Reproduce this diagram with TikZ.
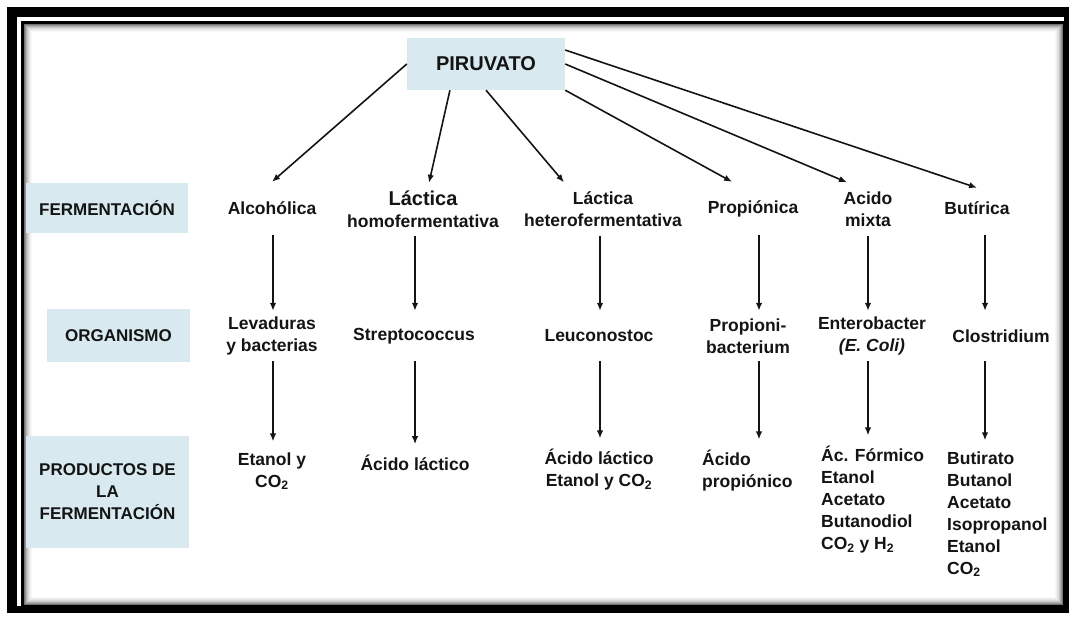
\documentclass[tikz,border=0pt]{standalone}
\usepackage{fontspec}
\setmainfont{Liberation Sans}
\usepackage{tikz}
\usetikzlibrary{arrows.meta}
\definecolor{cajaazul}{RGB}{216,234,240}
\definecolor{tinta}{RGB}{20,20,20}
\tikzstyle{etiqueta}=[fill=cajaazul, text=tinta, align=center, inner sep=0pt,
    font=\bfseries\fontsize{17}{22}\selectfont]
\tikzstyle{texto}=[text=tinta, align=center, font=\bfseries\fontsize{17.5}{22}\selectfont]
\tikzstyle{fermen}=[texto, inner sep=0pt, minimum height=53pt]
\tikzstyle{organ}=[texto, inner sep=0pt, minimum height=50pt]
\tikzstyle{prod}=[texto, inner xsep=0pt, inner ysep=3pt, outer ysep=8pt]
\tikzstyle{flecha}=[draw=tinta, line width=1.6pt, -{Latex[length=8pt,width=6.5pt]}]

\begin{document}
\begin{tikzpicture}[x=1pt,y=-1pt]
\useasboundingbox (0,0) rectangle (1070,621);
% marco
\fill[black] (7,7) rectangle (1069,613);
\fill[white] (17,17) rectangle (1064,606);
\foreach \d/\g in {1/55,2/42,3/31,4/22,5/15,6/10,7/6,8/3}
  \draw[black!\g, line width=1pt] (23.5+\d,23.5+\d) rectangle (1063-\d,605-\d);
\draw[line width=3pt] (22.5,22.5) rectangle (1064,606);

\node[etiqueta, minimum width=162pt, minimum height=50pt] (lfer) at (107,208) {FERMENTACIÓN};
\node[etiqueta, minimum width=143pt, minimum height=53pt] (lorg) at (118.5,335.5) {ORGANISMO};
\node[etiqueta, minimum width=163pt, minimum height=112pt] (lprod) at (107.5,492) {PRODUCTOS DE\\LA\\FERMENTACIÓN};
\node[etiqueta, minimum width=158pt, minimum height=52pt, font=\bfseries\fontsize{20}{24}\selectfont] (piru) at (486,64) {PIRUVATO};

\node[fermen] (f1) at (272,208.5) {Alcohólica};
\node[fermen] (f2) at (423,209.5) {{\fontsize{20}{22}\selectfont Láctica}\\homofermentativa};
\node[fermen] (f3) at (603,209) {Láctica\\heterofermentativa};
\node[fermen] (f4) at (753,208.5) {Propiónica};
\node[fermen] (f5) at (868,209) {Acido\\mixta};
\node[fermen] (f6) at (977,208.5) {Butírica};

\node[organ] (o1) at (272,336) {Levaduras\\y bacterias};
\node[organ] (o2) at (414,336) {Streptococcus};
\node[organ] (o3) at (599,336) {Leuconostoc};
\node[organ] (o4) at (748,336) {Propioni-\\bacterium};
\node[organ] (o5) at (872,336) {Enterobacter\\\textit{(E. Coli)}};
\node[organ] (o6) at (1001,336) {Clostridium};

\node[prod] (p1) at (272,471) {Etanol y\\CO\textsubscript{2}};
\node[prod] (p2) at (415,463) {Ácido láctico};
\node[prod] (p3) at (599,470) {Ácido láctico\\Etanol y CO\textsubscript{2}};
\node[prod, anchor=west, align=left] (p4) at (702,471) {Ácido\\propiónico};
\node[prod, anchor=west, align=left] (p5) at (821,500) {Ác. Fórmico\\Etanol\\Acetato\\Butanodiol\\CO\textsubscript{2} y H\textsubscript{2}};
\node[prod, anchor=west, align=left] (p6) at (947,514) {Butirato\\Butanol\\Acetato\\Isopropanol\\Etanol\\CO\textsubscript{2}};

\coordinate (c1) at (273,0);
\coordinate (c2) at (415,0);
\coordinate (c3) at (600,0);
\coordinate (c4) at (759,0);
\coordinate (c5) at (868,0);
\coordinate (c6) at (985,0);

\draw[flecha] (piru.west) -- (f1.north);
\draw[flecha] (piru.216) -- ([xshift=6pt]f2.north);
\draw[flecha] (piru.south) -- ([xshift=-39pt]f3.north);
\draw[flecha] (piru.south east) -- ([xshift=-21pt]f4.north);
\draw[flecha] (piru.east) -- ([xshift=-21pt]f5.north);
\draw[flecha] (piru.10) -- ([yshift=-6pt]f6.north);

\foreach \i in {1,...,6}{
  \draw[flecha] (f\i.south -| c\i) -- (o\i.north -| c\i);
  \draw[flecha] (o\i.south -| c\i) -- (p\i.north -| c\i);
}
\end{tikzpicture}
\end{document}
